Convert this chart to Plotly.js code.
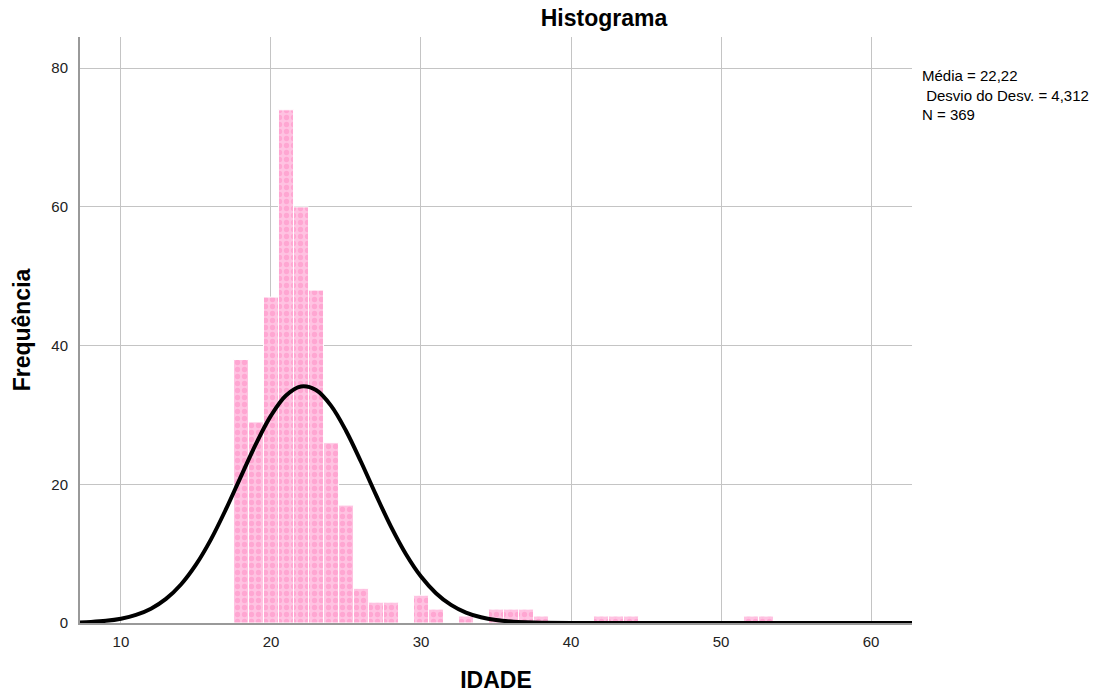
<!DOCTYPE html>
<html>
<head>
<meta charset="utf-8">
<script src="https://cdn.plot.ly/plotly-3.0.1.min.js"></script>
<style>html,body{margin:0;padding:0;background:#fff;}#chart{width:1109px;height:696px;}</style>
</head>
<body>
<div id="chart"></div>
<script>
// Histogram bins (age) and frequencies
const ages = [18, 19, 20, 21, 22, 23, 24, 25, 26, 27, 28, 30, 31, 33, 35, 36, 37, 38, 42, 43, 44, 52, 53];
const counts = [38, 29, 47, 74, 60, 48, 26, 17, 5, 3, 3, 4, 2, 1, 2, 2, 2, 1, 1, 1, 1, 1, 1];

// Normal curve points
const curveX = [7, 8, 9, 10, 11, 12, 13, 14, 15, 16, 17, 18, 19, 20, 21, 22, 23, 24, 25, 26, 27, 28, 29, 30, 31, 32, 33, 34, 35, 36, 37, 38, 40, 45, 50, 55, 60, 63];
const curveY = [0.07, 0.15, 0.31, 0.62, 1.16, 2.06, 3.47, 5.55, 8.41, 12.06, 16.41, 21.15, 25.83, 29.9, 32.8, 34.1, 33.59, 31.35, 27.73, 23.25, 18.47, 13.9, 9.92, 6.7, 4.3, 2.61, 1.5, 0.82, 0.42, 0.21, 0.1, 0.04, 0.01, 0, 0, 0, 0, 0];

const xTicks = [10, 20, 30, 40, 50, 60];
const yTicks = [0, 20, 40, 60, 80];
const statsLines = ["Média = 22,22", " Desvio do Desv. = 4,312", "N = 369"];

const font = "Liberation Sans, Arial, sans-serif";

const traces = [
  {
    type: "bar",
    x: ages,
    y: counts,
    width: 1,
    marker: {
      color: "#ffbadd",
      line: {color: "#ffffff", width: 1},
      pattern: {shape: ".", fgcolor: "#ffa6d2", bgcolor: "#ffc3e2", size: 7, solidity: 0.45}
    },
    hoverinfo: "x+y",
    showlegend: false
  },
  {
    type: "scatter",
    mode: "lines",
    x: curveX,
    y: curveY,
    line: {color: "#000000", width: 4, shape: "spline", smoothing: 1},
    hoverinfo: "skip",
    showlegend: false
  }
];

const layout = {
  width: 1109,
  height: 696,
  margin: {l: 80, r: 197, t: 37, b: 73},
  paper_bgcolor: "#ffffff",
  plot_bgcolor: "#ffffff",
  font: {family: font, size: 15, color: "#222"},
  title: {
    text: "<b>Histograma</b>",
    font: {family: font, size: 23, color: "#000"},
    x: 604 / 1109, xref: "container", xanchor: "center",
    y: 1 - 18 / 696, yref: "container", yanchor: "middle"
  },
  xaxis: {
    range: [7.27, 62.73],
    tickvals: xTicks,
    ticktext: xTicks.map(String),
    showgrid: true,
    gridcolor: "#c4c4c4",
    gridwidth: 1,
    zeroline: false,
    showline: true,
    linecolor: "#999",
    linewidth: 2,
    ticks: "",
    ticklabelstandoff: 4,
    tickfont: {family: font, size: 15, color: "#222"},
    title: {text: "<b>IDADE</b>", font: {family: font, size: 23, color: "#000"}, standoff: 23}
  },
  yaxis: {
    range: [0, 84.5],
    tickvals: yTicks,
    ticktext: yTicks.map(String),
    showgrid: true,
    gridcolor: "#c4c4c4",
    gridwidth: 1,
    zeroline: false,
    showline: true,
    linecolor: "#999",
    linewidth: 2,
    ticks: "",
    ticklabelstandoff: 7,
    tickfont: {family: font, size: 15, color: "#222"},
    title: {text: "<b>Frequência</b>", font: {family: font, size: 23, color: "#000"}, standoff: 14}
  },
  bargap: 0,
  annotations: [
    {
      text: statsLines.join("<br>"),
      xref: "paper", yref: "paper",
      x: 1, y: 1,
      xshift: 8, yshift: -28,
      xanchor: "left", yanchor: "top",
      align: "left",
      showarrow: false,
      font: {family: font, size: 15, color: "#000"}
    }
  ]
};

Plotly.newPlot("chart", traces, layout, {displayModeBar: false, staticPlot: true});
</script>
</body>
</html>
